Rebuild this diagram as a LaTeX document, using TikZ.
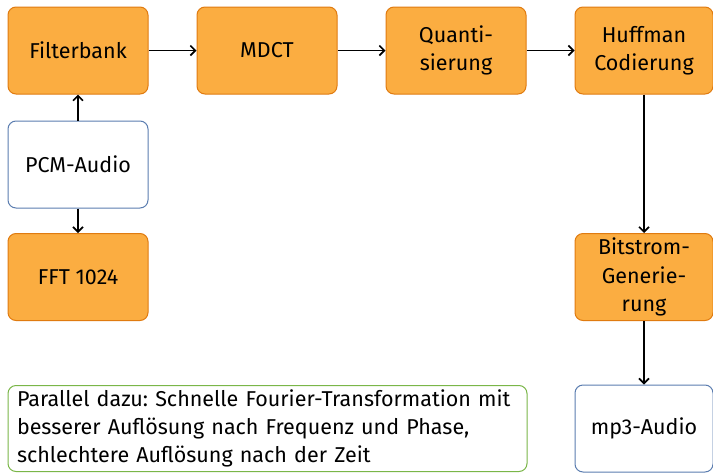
\documentclass[tikz,border=0pt]{standalone}
\usepackage{fontspec}
\setmainfont{Fira Sans}
\frenchspacing
\usetikzlibrary{arrows.meta}
\definecolor{boxfill}{HTML}{FBAD41}
\definecolor{boxline}{HTML}{E07B10}
\definecolor{ioline}{HTML}{5B7DB0}
\definecolor{noteline}{HTML}{7AB648}
\begin{document}
\begin{tikzpicture}[x=1pt,y=-1pt,
  proc/.style={draw=boxline,fill=boxfill,rounded corners=8pt,line width=1pt,minimum width=140pt,minimum height=87pt,align=center,inner sep=0pt,font=\fontsize{21.5}{28.5}\selectfont},
  io/.style={proc,draw=ioline,fill=white},
  note/.style={draw=noteline,rounded corners=8pt,line width=1pt,minimum width=519pt,minimum height=86pt,align=left,inner sep=0pt,text width=501pt,font=\fontsize{21.5}{28}\selectfont},
  conn/.style={-{Straight Barb[length=5pt,width=10pt]},line width=1.6pt}]
\useasboundingbox (0,0) rectangle (713,472);
\node[proc] (fb) at (78,50.5) {Filterbank};
\node[proc] (mdct) at (267,50.5) {MDCT};
\node[proc] (q) at (456,50.5) {Quanti-\\sierung};
\node[proc,minimum width=138pt] (h) at (644,50.5) {Huffman\\Codierung};
\node[io] (pcm) at (78,164.5) {PCM-Audio};
\node[proc] (fft) at (78,277) {FFT 1024};
\node[proc,minimum width=138pt] (bs) at (644,277) {Bitstrom-\\Generie-\\rung};
\node[io,minimum width=138pt] (mp3) at (644,428.5) {mp3-Audio};
\node[note] (n) at (267.5,428.5) {Parallel dazu: Schnelle Fourier-Transformation mit\\besserer Auflösung nach Frequenz und Phase,\\schlechtere Auflösung nach der Zeit};
\draw[conn] (pcm) -- (fb);
\draw[conn] (pcm) -- (fft);
\draw[conn] (fb) -- (mdct);
\draw[conn] (mdct) -- (q);
\draw[conn] (q) -- (h);
\draw[conn] (h) -- (bs);
\draw[conn] (bs) -- (mp3);
\end{tikzpicture}
\end{document}
